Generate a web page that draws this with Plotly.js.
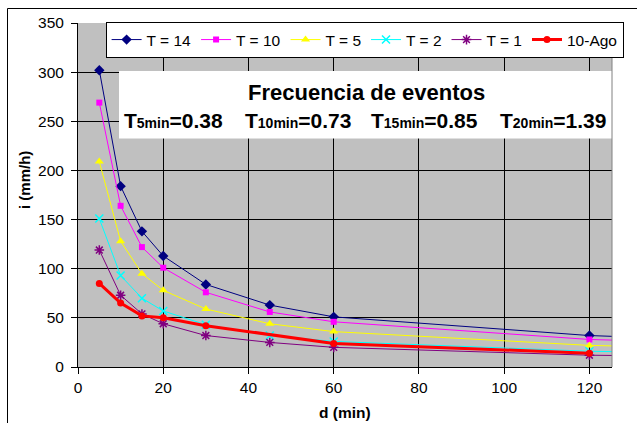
<!DOCTYPE html>
<html>
<head>
<meta charset="utf-8">
<script src="https://cdn.plot.ly/plotly-3.0.1.min.js"></script>
<style>
  html, body { margin: 0; padding: 0; background: #ffffff; }
  #chart { width: 637px; height: 423px; }
</style>
</head>
<body>
<div id="chart"></div>
<script>
// Duration (min) for the return-period curves
var duration = [5, 10, 15, 20, 30, 45, 60, 120, 180];
// Intensity (mm/h) for each return period T (years)
var iT14 = [302, 184, 138, 113, 84, 63, 51, 32, 23];
var iT10 = [269, 164, 122, 101, 76, 56, 46, 28, 21];
var iT5  = [209, 128, 95, 78, 59, 44, 36, 22, 16];
var iT2  = [151, 93, 70, 57, 43, 32, 26, 16, 12];
var iT1  = [119, 73, 54, 44, 32, 25, 20, 12, 9];
// Observed storm of 10 August
var durationAgo = [5, 10, 15, 20, 30, 60, 120];
var iAgo = [85, 65, 52, 50, 42, 24, 14];

var seriesNames = ['T = 14', 'T = 10', 'T = 5', 'T = 2', 'T = 1', '10-Ago'];

// Frequency of each observed duration
var freqLabels = ['5min', '10min', '15min', '20min'];
var freqValues = ['0.38', '0.73', '0.85', '1.39'];

var FONT = 'Liberation Sans, Arial, sans-serif';

// Plot area in page pixels, used to place free-floating text
var PL = 78, PR = 612, PT = 23, PB = 367;
function px(xp) { return (xp - PL) / (PR - PL); }
function py(yp) { return (PB - yp) / (PB - PT); }

var traces = [
  { x: duration, y: iT14, name: seriesNames[0], mode: 'lines+markers',
    line: { color: '#000080', width: 1 },
    marker: { symbol: 'diamond', size: 8, color: '#000080' } },
  { x: duration, y: iT10, name: seriesNames[1], mode: 'lines+markers',
    line: { color: '#FF00FF', width: 1 },
    marker: { symbol: 'square', size: 6, color: '#FF00FF' } },
  { x: duration, y: iT5, name: seriesNames[2], mode: 'lines+markers',
    line: { color: '#FFFF00', width: 1 },
    marker: { symbol: 'triangle-up', size: 8, color: '#FFFF00' } },
  { x: duration, y: iT2, name: seriesNames[3], mode: 'lines+markers',
    line: { color: '#00FFFF', width: 1 },
    marker: { symbol: 'x-thin-open', size: 8, color: '#00FFFF',
              line: { color: '#00FFFF', width: 1.5 } } },
  { x: duration, y: iT1, name: seriesNames[4], mode: 'lines+markers',
    line: { color: '#800080', width: 1 },
    marker: { symbol: 'asterisk-open', size: 8, color: '#800080',
              line: { color: '#800080', width: 1.5 } } },
  { x: durationAgo, y: iAgo, name: seriesNames[5], mode: 'lines+markers',
    line: { color: '#FF0000', width: 3 },
    marker: { symbol: 'circle', size: 7, color: '#FF0000' } }
];

// Frequency line: one annotation per duration, value with small-print duration
var freqCenters = [173, 297.5, 424, 552.5];
var annotations = [
  { xref: 'paper', yref: 'paper', x: px(366), y: py(92),
    xanchor: 'center', yanchor: 'middle', showarrow: false,
    text: '<b>Frecuencia de eventos</b>',
    font: { family: FONT, size: 22, color: '#000000' } },
  { xref: 'paper', yref: 'paper', x: px(24), y: py(180),
    xanchor: 'center', yanchor: 'middle', showarrow: false, textangle: -90,
    text: '<b>i (mm/h)</b>',
    font: { family: FONT, size: 15, color: '#000000' } },
  { xref: 'paper', yref: 'paper', x: px(345), y: py(412),
    xanchor: 'center', yanchor: 'middle', showarrow: false,
    text: '<b>d (min)</b>',
    font: { family: FONT, size: 15.5, color: '#000000' } }
];
for (var k = 0; k < freqLabels.length; k++) {
  annotations.push({
    xref: 'paper', yref: 'paper', x: px(freqCenters[k]), y: py(121),
    xanchor: 'center', yanchor: 'middle', showarrow: false,
    text: '<b>T<span style="font-size:14px">' + freqLabels[k] + '</span>=' + freqValues[k] + '</b>',
    font: { family: FONT, size: 21, color: '#000000' }
  });
}

var shapes = [
  // white panel behind the frequency text
  { type: 'rect', xref: 'paper', yref: 'paper',
    x0: px(119), x1: 1, y0: py(138.5), y1: py(71),
    fillcolor: '#FFFFFF', line: { width: 0 }, layer: 'above' },
  // right edge of the plot area
  { type: 'line', xref: 'paper', yref: 'paper', x0: 1, x1: 1, y0: 0, y1: 1,
    line: { color: '#808080', width: 1 } },
  // outer chart frame (left and top)
  { type: 'line', xref: 'paper', yref: 'paper', x0: px(7.5), x1: px(7.5), y0: py(8.5), y1: py(440),
    line: { color: '#000000', width: 1 } },
  { type: 'line', xref: 'paper', yref: 'paper', x0: px(7.5), x1: px(660), y0: py(8.5), y1: py(8.5),
    line: { color: '#000000', width: 1 } }
];

var axisCommon = {
  ticks: 'outside', ticklen: 6, tickcolor: '#000000', tickwidth: 1,
  showgrid: true, gridcolor: '#000000', gridwidth: 1,
  showline: true, linecolor: '#000000', linewidth: 1,
  zeroline: false, fixedrange: true,
  tickfont: { family: FONT, size: 15.5, color: '#000000' }
};

var layout = {
  width: 637, height: 423,
  margin: { l: PL, r: 637 - PR, t: PT, b: 423 - PB, pad: 0 },
  paper_bgcolor: '#FFFFFF',
  plot_bgcolor: '#C0C0C0',
  showlegend: true,
  legend: {
    orientation: 'h', xref: 'paper', yref: 'paper',
    x: px(105.6), y: py(22), xanchor: 'left', yanchor: 'top',
    bgcolor: '#FFFFFF', bordercolor: '#000000', borderwidth: 1,
    font: { family: FONT, size: 15.5, color: '#000000' },
    itemwidth: 30, traceorder: 'normal'
  },
  xaxis: Object.assign({}, axisCommon, { range: [0, 125.3], tick0: 0, dtick: 20 }),
  yaxis: Object.assign({}, axisCommon, { range: [0, 350], tick0: 0, dtick: 50, ticklabelstandoff: 4 }),
  annotations: annotations,
  shapes: shapes
};

Plotly.newPlot('chart', traces, layout, { displayModeBar: false, staticPlot: true });
</script>
</body>
</html>
